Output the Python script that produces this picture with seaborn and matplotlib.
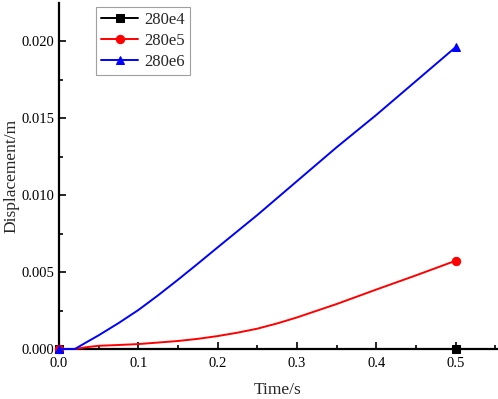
import matplotlib
matplotlib.use("Agg")
import matplotlib.pyplot as plt
import seaborn as sns
import pandas as pd
from matplotlib.ticker import MultipleLocator

sns.set_style("ticks")
plt.rcParams['font.family'] = ['Liberation Serif', 'DejaVu Serif']
plt.rcParams['mathtext.fontset'] = 'stix'

time = [0.0, 0.02, 0.035, 0.05, 0.075, 0.1, 0.125, 0.15, 0.175, 0.2, 0.225, 0.25, 0.275, 0.3, 0.35, 0.4, 0.45, 0.5]
disp_e4 = [0.0] * len(time)
disp_e5 = [0.0, 0.0, 0.00012, 0.00021, 0.00026, 0.00032, 0.00042, 0.00052, 0.00066, 0.00084, 0.00106, 0.00132, 0.00166, 0.00205, 0.00292, 0.00386, 0.00478, 0.00573]
disp_e6 = [0.0, 0.0, 0.00045, 0.00089, 0.00168, 0.00253, 0.00349, 0.0045, 0.00554, 0.0066, 0.00765, 0.0087, 0.0098, 0.0109, 0.0131, 0.0152, 0.0174, 0.0196]
labels = ["280e4", "280e5", "280e6"]
colors = ["#000000", "#ff0000", "#0000ff"]
markers = ["s", "o", "^"]

fig = plt.figure(figsize=(4.98, 3.99), dpi=100)
ax = fig.add_axes([0.1185, 0.1253, 0.879, 0.867])

for lab, ys, c, m in zip(labels, [disp_e4, disp_e5, disp_e6], colors, markers):
    df = pd.DataFrame({"t": time, "d": ys})
    sns.lineplot(data=df, x="t", y="d", ax=ax, color=c, marker=m, markevery=[0, len(time) - 1],
                 markersize=6, markeredgecolor=c, linewidth=1.4, label=lab, clip_on=False, zorder=3)

ax.set_xlim(0, 0.552)
ax.set_ylim(0, 0.02247)
ax.xaxis.set_major_locator(MultipleLocator(0.1))
ax.xaxis.set_minor_locator(MultipleLocator(0.05))
ax.yaxis.set_major_locator(MultipleLocator(0.005))
ax.yaxis.set_minor_locator(MultipleLocator(0.0025))
ax.xaxis.set_major_formatter(matplotlib.ticker.FormatStrFormatter('%.1f'))
ax.yaxis.set_major_formatter(matplotlib.ticker.FormatStrFormatter('%.3f'))
ax.tick_params(which='both', direction='in', width=1.2, labelsize=10.5, colors='black')
ax.tick_params(which='major', length=5)
ax.tick_params(which='minor', length=3)
ax.tick_params(axis='x', which='major', pad=6)
for s in ['top', 'right']:
    ax.spines[s].set_visible(False)
for s in ['left', 'bottom']:
    ax.spines[s].set_linewidth(1.6)
    ax.spines[s].set_color('black')

ax.set_xlabel("Time/s", fontsize=12.5)
ax.set_ylabel("Displacement/m", fontsize=12.5)
ax.xaxis.set_label_coords(0.5, -0.095)
ax.yaxis.set_label_coords(-0.091, 0.5)

leg = ax.legend(loc='upper left', bbox_to_anchor=(0.085, 0.99), borderaxespad=0, fontsize=12,
                frameon=True, fancybox=False, edgecolor='#888888', handlelength=2.2,
                labelspacing=0.3, borderpad=0.3, handletextpad=0.4)
leg.get_frame().set_linewidth(0.8)

fig.savefig("out.png", dpi=100)
